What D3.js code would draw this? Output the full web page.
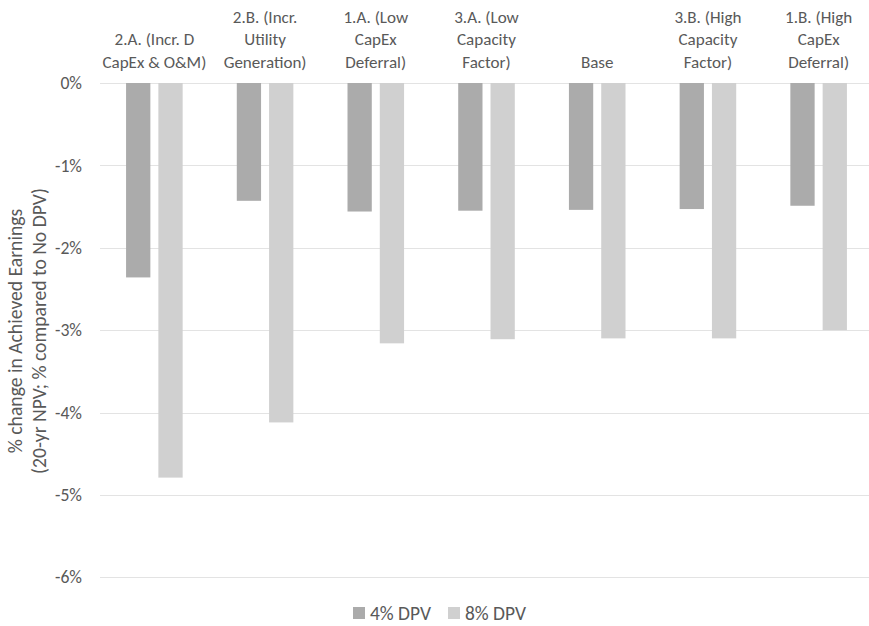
<!DOCTYPE html>
<html><head><meta charset="utf-8">
<script src="https://cdn.jsdelivr.net/npm/d3@7"></script>
<style>html,body{margin:0;padding:0;background:#fff;}svg{display:block;}</style>
</head><body>
<script>
const categories = ["2.A.", "2.B.", "1.A.", "3.A.", "Base", "3.B.", "1.B."];
const categoryLabels = [
  ["2.A. (Incr. D", "CapEx & O&M)"],
  ["2.B. (Incr.", "Utility", "Generation)"],
  ["1.A. (Low", "CapEx", "Deferral)"],
  ["3.A. (Low", "Capacity", "Factor)"],
  ["Base"],
  ["3.B. (High", "Capacity", "Factor)"],
  ["1.B. (High", "CapEx", "Deferral)"]
];
const seriesNames = ["4% DPV", "8% DPV"];
const dpv4 = [-2.36, -1.43, -1.56, -1.55, -1.54, -1.53, -1.49];
const dpv8 = [-4.79, -4.12, -3.16, -3.11, -3.10, -3.10, -3.00];
const yTicks = [0, -1, -2, -3, -4, -5, -6];
const colors = ["#ababab", "#d0d0d0"];

const W = 869, H = 626;
const font = "Carlito, Calibri, Lato, sans-serif";
const textColor = "#595959";
const svg = d3.select("body").append("svg").attr("width", W).attr("height", H)
  .style("font-family", font);

// pick a font size so that a sample string has the given pixel width
function fitSize(sample, targetWidth) {
  const t = svg.append("text").attr("font-size", 20).style("font-family", font).text(sample);
  const w = t.node().getComputedTextLength();
  t.remove();
  return w > 0 ? 20 * targetWidth / w : 17;
}
const catSize = fitSize("CapEx & O&M)", 104);
const tickSize = fitSize("-1%", 27);
const titleSize = fitSize("(20-yr NPV; % compared to No DPV)", 286);
const legSize = fitSize("4% DPV", 61);

const y = d3.scaleLinear().domain([-6, 0]).range([577.3, 83]);
const x0 = d3.scaleBand().domain(categories).range([99, 874]).paddingInner(0.489).paddingOuter(0.2445);
const x1 = d3.scaleBand().domain(seriesNames).range([0, x0.bandwidth()]).paddingInner(0.248);

// gridlines
svg.append("g").selectAll("line").data(yTicks).join("line")
  .attr("x1", 100).attr("x2", W)
  .attr("y1", d => Math.round(y(d)) + 0.5).attr("y2", d => Math.round(y(d)) + 0.5)
  .attr("stroke", "#e3e3e3").attr("stroke-width", 1);

// y axis labels
const yAxis = d3.axisLeft(y).tickValues(yTicks).tickFormat(d => d + "%").tickSize(0).tickPadding(0);
const ga = svg.append("g").attr("transform", "translate(82,0)").call(yAxis);
ga.select(".domain").remove();
ga.selectAll("text").attr("font-size", tickSize).attr("fill", textColor).style("font-family", font);

// bars
const data = categories.map((c, i) => ({cat: c, vals: [dpv4[i], dpv8[i]]}));
const groups = svg.append("g").selectAll("g").data(data).join("g")
  .attr("transform", d => `translate(${x0(d.cat)},0)`);
groups.selectAll("rect").data(d => d.vals.map((v, j) => ({s: seriesNames[j], v, j}))).join("rect")
  .attr("x", d => x1(d.s)).attr("width", x1.bandwidth())
  .attr("y", d => y(0)).attr("height", d => y(d.v) - y(0))
  .attr("fill", d => colors[d.j]);

// category labels at top, bottom aligned
const lineH = 22.5;
const lastBase = 67.5;
categories.forEach((c, i) => {
  const lines = categoryLabels[i];
  const cx = x0(c) + x0.bandwidth() / 2;
  lines.forEach((t, k) => {
    svg.append("text").attr("x", cx)
      .attr("y", lastBase - (lines.length - 1 - k) * lineH)
      .attr("text-anchor", "middle").attr("font-size", catSize).attr("fill", textColor)
      .text(t);
  });
});

// y axis title
const yt = svg.append("text").attr("transform", "translate(0,331) rotate(-90)")
  .attr("text-anchor", "middle").attr("font-size", titleSize).attr("fill", textColor);
yt.append("tspan").attr("x", 0).attr("y", 22).text("% change in Achieved Earnings");
yt.append("tspan").attr("x", 0).attr("y", 46).text("(20-yr NPV; % compared to No DPV)");

// legend
const legX = [353, 448];
seriesNames.forEach((s, j) => {
  svg.append("rect").attr("x", legX[j]).attr("y", 607).attr("width", 12).attr("height", 12).attr("fill", colors[j]);
  svg.append("text").attr("x", legX[j] + 17).attr("y", 619.5).attr("font-size", legSize).attr("fill", textColor).text(s);
});
</script>
</body></html>
